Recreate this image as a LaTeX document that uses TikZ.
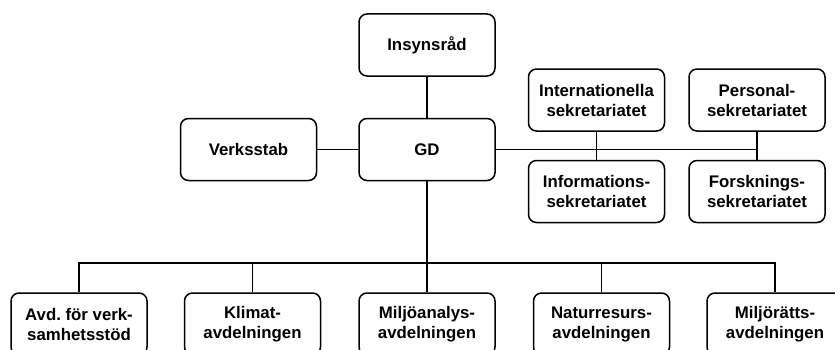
\documentclass[tikz,border=0pt]{standalone}
\usepackage{fontspec}
\setmainfont{Liberation Sans}
\usepackage{tikz}
\usetikzlibrary{positioning}
\frenchspacing

\tikzset{
    unit/.style={draw, line width=1.5pt, rounded corners=8pt, align=center,
        minimum width=136pt, minimum height=62pt, inner sep=2pt,
        font=\fontsize{16.8}{20}\selectfont\bfseries},
    link/.style={line width=1.6pt}
}

\begin{document}
\begin{tikzpicture}[x=1pt, y=1pt]
        \useasboundingbox (0,0) rectangle (835,349);

        \node [unit] (gd) at (427,199.5) {GD};
        \node [unit, above=41pt of gd] (insyn) {Insynsråd};
        \node [unit, left=41pt of gd] (verk) {Verksstab};

        \node [unit, above right=-14pt and 32pt of gd] (intl) {Internationella\\sekretariatet};
        \node [unit, below=28pt of intl] (info) {Informations-\\sekretariatet};
        \node [unit, right=23pt of intl] (pers) {Personal-\\sekretariatet};
        \node [unit, below=28pt of pers] (forsk) {Forsknings-\\sekretariatet};

        \node [unit, below=111pt of gd] (analys) {Miljöanalys-\\avdelningen};
        \node [unit, left=37pt of analys] (klimat) {Klimat-\\avdelningen};
        \node [unit, left=36pt of klimat] (avd) {Avd. för verk-\\samhetsstöd};
        \node [unit, right=37pt of analys] (natur) {Naturresurs-\\avdelningen};
        \node [unit, right=36pt of natur] (ratt) {Miljörätts-\\avdelningen};

        \coordinate [below=82pt of gd.south] (bus);

        \draw[link] (insyn) -- (gd);
        \draw[link] (verk) -- (gd);
        \draw[link] (gd.east) -- (gd.east -| pers.south);
        \draw[link] (intl) -- (info);
        \draw[link] (pers) -- (forsk);

        % Avdelningar
        \draw[link] (gd.south) -- (bus);
        \draw[link] (avd.north) |- (bus) -| (ratt.north);
        \foreach \n in {klimat, analys, natur}
            \draw[link] (\n.north) -- (\n.north |- bus);

    \end{tikzpicture}
\end{document}
